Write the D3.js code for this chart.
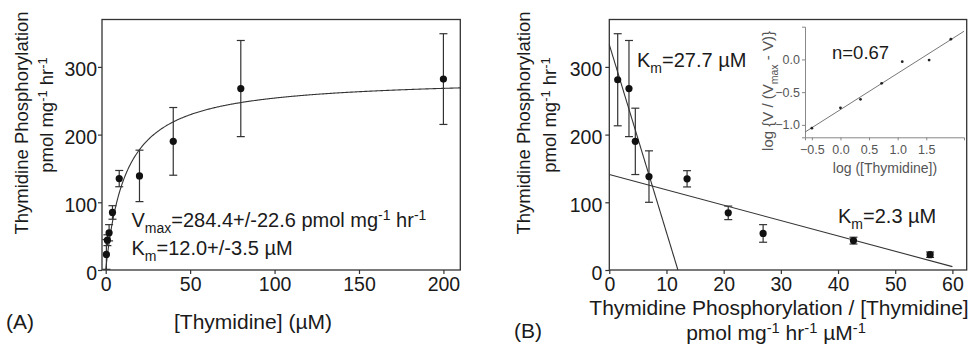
<!DOCTYPE html>
<html>
<head>
<meta charset="utf-8">
<script src="https://cdn.jsdelivr.net/npm/d3@7"></script>
<style>
  html, body { margin: 0; padding: 0; background: #fff; }
  svg { display: block; font-family: 'Liberation Sans', Arial, sans-serif; }
</style>
</head>
<body>
<svg id="chart" width="972" height="345"></svg>
<script>
// panel A: saturation curve
var thymidine = [0.4, 1, 2, 4, 8, 20, 40, 80, 200];
var rateA = [23, 44, 55, 85, 135, 139, 190, 268, 282];
var errA = [22, 8, 12, 10, 12, 38, 50, 71, 67];
var vmaxA = 284.4, kmA = 12.0;
var ticksAx = [0, 50, 100, 150, 200];
var ticksY = [0, 100, 200, 300];

// panel B: Eadie-Hofstee
var ratioB = [1.47, 3.44, 4.55, 6.94, 13.6, 20.8, 26.9, 42.7, 56.1];
var rateB = [281, 268, 190, 138, 134.7, 84.4, 54, 43.4, 22.6];
var errB = [68, 71, 49, 38, 12, 10, 13, 5, 4];
var steepLine = [[0, 333], [12.0, 0]];
var shallowLine = [[0, 141], [60, 5]];
var ticksBx = [0, 10, 20, 30, 40, 50, 60];

// inset: Hill plot
var logS = [-0.5, 0.0, 0.35, 0.72, 1.08, 1.55, 1.93];
var logRatio = [-1.05, -0.74, -0.61, -0.365, -0.035, -0.01, 0.31];
var hillLine = [[-0.62, -1.11], [2.16, 0.43]];
var ticksIx = [-0.5, 0, 0.5, 1.0, 1.5];
var ticksIy = [-1.0, -0.5, 0.0];

var svg = d3.select('#chart');
var ink = '#1a1a1a';
var lineCol = '#333';

// text with sub/superscripts
function rich(g, x, y, parts, size, anchor) {
  var t = g.append('text').attr('x', x).attr('y', y)
    .attr('font-size', size).attr('fill', ink)
    .attr('text-anchor', anchor || 'start');
  var shift = 0;
  parts.forEach(function(p) {
    var kind = p[1] || 'n';
    var target = kind == 'sup' ? -0.33 * size : (kind == 'sub' ? 0.3 * size : 0);
    t.append('tspan').attr('dy', target - shift)
      .attr('font-size', kind == 'n' ? size : size * 0.7)
      .text(p[0]);
    shift = target;
  });
  return t;
}

function styleAxis(g, size) {
  g.select('.domain').remove();
  g.selectAll('.tick line').attr('stroke', lineCol).attr('stroke-width', 1.2);
  g.selectAll('.tick text').attr('font-size', size).attr('fill', ink)
    .attr('font-family', "'Liberation Sans', Arial, sans-serif");
}

function errorBars(g, xs, ys, es, x, y) {
  var cap = 4;
  var eb = g.append('g').attr('stroke', lineCol).attr('stroke-width', 1.2);
  xs.forEach(function(d, i) {
    var px = x(d), top = y(ys[i] + es[i]), bot = y(Math.max(0, ys[i] - es[i]));
    eb.append('line').attr('x1', px).attr('x2', px).attr('y1', top).attr('y2', bot);
    eb.append('line').attr('x1', px - cap).attr('x2', px + cap).attr('y1', top).attr('y2', top);
    if (ys[i] - es[i] > 0)
      eb.append('line').attr('x1', px - cap).attr('x2', px + cap).attr('y1', bot).attr('y2', bot);
  });
  g.append('g').selectAll('circle').data(xs).join('circle')
    .attr('cx', function(d) { return x(d); })
    .attr('cy', function(d, i) { return y(ys[i]); })
    .attr('r', 3.6).attr('fill', '#111');
}

// ---------------- panel A ----------------
var xA = d3.scaleLinear().domain([-2.2, 210]).range([102, 460.3]);
var yA = d3.scaleLinear().domain([0, 370]).range([270, 19.5]);
var gA = svg.append('g');

gA.append('g').attr('transform', 'translate(102,0)')
  .call(d3.axisLeft(yA).tickValues(ticksY).tickSize(4).tickPadding(1))
  .call(styleAxis, 19.5)
  .selectAll('.tick text').attr('dy', 9);
gA.append('g').attr('transform', 'translate(0,270)')
  .call(d3.axisBottom(xA).tickValues(ticksAx).tickSize(4).tickPadding(3))
  .call(styleAxis, 19.5);

gA.append('rect').attr('x', 102).attr('y', 19.5)
  .attr('width', 460.3 - 102).attr('height', 270 - 19.5)
  .attr('fill', 'none').attr('stroke', lineCol).attr('stroke-width', 1.3);

var curve = d3.range(0, 210.5, 0.5).map(function(s) { return [s, vmaxA * s / (kmA + s)]; });
gA.append('path').datum(curve)
  .attr('d', d3.line().x(function(d) { return xA(d[0]); }).y(function(d) { return yA(d[1]); }))
  .attr('fill', 'none').attr('stroke', lineCol).attr('stroke-width', 1.1);

errorBars(gA, thymidine, rateA, errA, xA, yA);

rich(gA, 131.5, 227, [['V'], ['max', 'sub'], ['=284.4+/-22.6 pmol mg'], ['-1', 'sup'], [' hr'], ['-1', 'sup']], 20);
rich(gA, 131.5, 255, [['K'], ['m', 'sub'], ['=12.0+/-3.5 \u00b5M']], 20);

rich(gA, 0, 0, [['Thymidine Phosphorylation']], 18.5, 'middle')
  .attr('transform', 'translate(28,123) rotate(-90)');
rich(gA, 0, 0, [['pmol mg'], ['-1', 'sup'], [' hr'], ['-1', 'sup']], 18.5, 'middle')
  .attr('transform', 'translate(53,115) rotate(-90)');
rich(gA, 253, 329, [['[Thymidine] (\u00b5M)']], 21, 'middle');
rich(gA, 6, 329, [['(A)']], 21);

// ---------------- panel B ----------------
var xB = d3.scaleLinear().domain([0, 62.5]).range([609.3, 966.7]);
var yB = d3.scaleLinear().domain([0, 370]).range([270, 19.5]);
var gB = svg.append('g');

gB.append('g').attr('transform', 'translate(609.3,0)')
  .call(d3.axisLeft(yB).tickValues(ticksY).tickSize(4).tickPadding(3))
  .call(styleAxis, 19.5)
  .selectAll('.tick text').attr('dy', 9);
gB.append('g').attr('transform', 'translate(0,270)')
  .call(d3.axisBottom(xB).tickValues(ticksBx).tickSize(4).tickPadding(3))
  .call(styleAxis, 19.5);

gB.append('rect').attr('x', 609.3).attr('y', 19.5)
  .attr('width', 966.7 - 609.3).attr('height', 270 - 19.5)
  .attr('fill', 'none').attr('stroke', lineCol).attr('stroke-width', 1.3);

var lineB = d3.line().x(function(d) { return xB(d[0]); }).y(function(d) { return yB(d[1]); });
[steepLine, shallowLine].forEach(function(l) {
  gB.append('path').datum(l).attr('d', lineB)
    .attr('fill', 'none').attr('stroke', lineCol).attr('stroke-width', 1.1);
});

errorBars(gB, ratioB, rateB, errB, xB, yB);

rich(gB, 637, 67, [['K'], ['m', 'sub'], ['=27.7 \u00b5M']], 20);
rich(gB, 838, 223, [['K'], ['m', 'sub'], ['=2.3 \u00b5M']], 20);

rich(gB, 0, 0, [['Thymidine Phosphorylation']], 18.5, 'middle')
  .attr('transform', 'translate(529.5,123) rotate(-90)');
rich(gB, 0, 0, [['pmol mg'], ['-1', 'sup'], [' hr'], ['-1', 'sup']], 18.5, 'middle')
  .attr('transform', 'translate(556,115) rotate(-90)');
rich(gB, 779, 314.5, [['Thymidine Phosphorylation / [Thymidine]']], 21, 'middle');
rich(gB, 776, 340, [['pmol mg'], ['-1', 'sup'], [' hr'], ['-1', 'sup'], [' \u00b5M'], ['-1', 'sup']], 21, 'middle');
rich(gB, 514, 338, [['(B)']], 21);

// ---------------- inset ----------------
var xI = d3.scaleLinear().domain([-0.62, 2.16]).range([805, 964]);
var yI = d3.scaleLinear().domain([-1.19, 0.5]).range([137.3, 26.7]);
var gI = svg.append('g');
var inkI = '#555';

var axI = gI.append('g').attr('transform', 'translate(0,137.3)')
  .call(d3.axisBottom(xI).tickValues(ticksIx).tickSize(3).tickPadding(5).tickFormat(d3.format('.1f')));
axI.select('.domain').attr('stroke', '#888');
axI.selectAll('.tick line').attr('stroke', '#888');
axI.selectAll('.tick text').attr('font-size', 12.5).attr('fill', inkI);

var ayI = gI.append('g').attr('transform', 'translate(805,0)')
  .call(d3.axisLeft(yI).tickValues(ticksIy).tickSize(3).tickPadding(2).tickFormat(d3.format('.1f')));
ayI.select('.domain').attr('stroke', '#888');
ayI.selectAll('.tick line').attr('stroke', '#888');
ayI.selectAll('.tick text').attr('font-size', 12.5).attr('fill', inkI);

gI.append('path').datum(hillLine)
  .attr('d', d3.line().x(function(d) { return xI(d[0]); }).y(function(d) { return yI(d[1]); }))
  .attr('fill', 'none').attr('stroke', '#777').attr('stroke-width', 1);

gI.selectAll('circle').data(logS).join('circle')
  .attr('cx', function(d) { return xI(d); })
  .attr('cy', function(d, i) { return yI(logRatio[i]); })
  .attr('r', 1.4).attr('fill', '#222');

rich(gI, 832, 59, [['n=0.67']], 18.5);
rich(gI, 885, 173, [['log ([Thymidine])']], 14, 'middle').attr('fill', inkI)
  .selectAll('tspan').attr('fill', inkI);
rich(gI, 0, 0, [['log {V / (V'], ['max', 'sub'], [' - V)}']], 15, 'middle')
  .attr('transform', 'translate(773,91) rotate(-90)')
  .selectAll('tspan').attr('fill', inkI);
</script>
</body>
</html>
